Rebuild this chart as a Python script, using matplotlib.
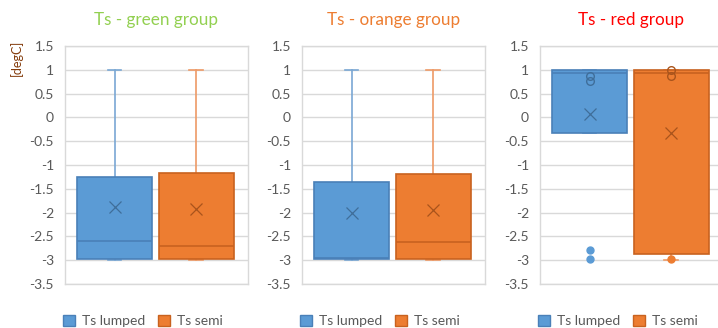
import matplotlib
matplotlib.use("Agg")
import matplotlib.pyplot as plt
from matplotlib.patches import Patch

plt.rcParams['font.family'] = ['Lato', 'DejaVu Sans']

# ---- data ----
groups = ["Ts - green group", "Ts - orange group", "Ts - red group"]
title_colors = ["#92D050", "#ED7D31", "#FF0000"]
series = ["Ts lumped", "Ts semi"]

# per group: [lumped, semi]
whisker_high = [[1.0, 1.0], [1.0, 1.0], [1.0, 1.0]]
q3 = [[-1.26, -1.16], [-1.36, -1.19], [1.0, 1.0]]
median = [[-2.59, -2.70], [-2.95, -2.61], [0.94, 0.93]]
q1 = [[-2.97, -2.97], [-2.98, -2.98], [-0.33, -2.86]]
whisker_low = [[-3.0, -3.0], [-3.0, -3.0], [-0.33, -3.0]]
mean = [[-1.89, -1.92], [-2.00, -1.95], [0.08, -0.33]]
outliers = [[[], []], [[], []], [[-2.79, -2.97], [-2.97]]]
inner_points = [[[], []], [[], []], [[0.88, 0.77], [0.99, 0.88]]]

yticks = [1.5, 1, 0.5, 0, -0.5, -1, -1.5, -2, -2.5, -3, -3.5]
ylabel = "[degC]"

fill_colors = ["#5B9BD5", "#ED7D31"]
edge_colors = ["#4A80B8", "#C8621F"]
whisk_colors = ["#7AA7D4", "#EE9A66"]
mark_colors = ["#3F6E9A", "#A9541C"]
grid_color = "#D9D9D9"
text_color = "#595959"

fig = plt.figure(figsize=(7.18, 3.28), dpi=100)
lefts = [65, 302, 540]
W, H = 718.0, 328.0
positions = [0.2705, 0.716]

for g in range(3):
    ax = fig.add_axes([lefts[g] / W, 1 - 284 / H, 183 / W, 238 / H])
    for s in range(2):
        st = dict(med=median[g][s], q1=q1[g][s], q3=q3[g][s],
                  whislo=whisker_low[g][s], whishi=whisker_high[g][s],
                  mean=mean[g][s], fliers=outliers[g][s])
        ax.bxp([st], positions=[positions[s]], widths=0.41, patch_artist=True,
               showmeans=True, showfliers=True, capwidths=0.075,
               boxprops=dict(facecolor=fill_colors[s], edgecolor=edge_colors[s], linewidth=1.2, zorder=3),
               medianprops=dict(color=edge_colors[s], linewidth=1.2, zorder=4),
               whiskerprops=dict(color=whisk_colors[s], linewidth=1.2, zorder=2),
               capprops=dict(color=whisk_colors[s], linewidth=1.2, zorder=2),
               meanprops=dict(marker='x', markeredgecolor=mark_colors[s], markersize=9,
                              markeredgewidth=0.9, zorder=5),
               flierprops=dict(marker='o', markerfacecolor=fill_colors[s],
                               markeredgecolor=fill_colors[s], markersize=5, zorder=5))
        if inner_points[g][s]:
            ax.plot([positions[s]] * len(inner_points[g][s]), inner_points[g][s],
                    linestyle='none', marker='o', markersize=5.5, markerfacecolor='none',
                    markeredgecolor=mark_colors[s], markeredgewidth=1.0, zorder=5)
    ax.set_xlim(0, 1)
    ax.set_ylim(-3.5, 1.5)
    ax.set_yticks(yticks)
    ax.set_yticklabels([("%g" % v) for v in yticks])
    ax.set_xticks([])
    ax.tick_params(axis='y', length=0, labelsize=10, labelcolor=text_color, pad=8)
    ax.yaxis.grid(True, color=grid_color, linewidth=1.0)
    ax.set_axisbelow(True)
    for sp in ax.spines.values():
        sp.set_color(grid_color)
        sp.set_linewidth(1.0)
    ax.set_title(groups[g], color=title_colors[g], fontsize=12.3, pad=15)
    handles = [Patch(facecolor=fill_colors[i], edgecolor=edge_colors[i], label=series[i])
               for i in range(2)]
    fig.legend(handles=handles, loc='center',
               bbox_to_anchor=((lefts[g] + 78) / W, 1 - 321 / H), ncol=2,
               frameon=False, fontsize=10, labelcolor=text_color,
               handlelength=0.85, handleheight=0.85, handletextpad=0.5, columnspacing=0.9)
    if g == 0:
        fig.text(16.5 / W, 1 - 58 / H, ylabel, rotation=90, ha='center', va='center',
                 fontsize=9, color="#843C0C")

fig.savefig("out.png", dpi=100)
